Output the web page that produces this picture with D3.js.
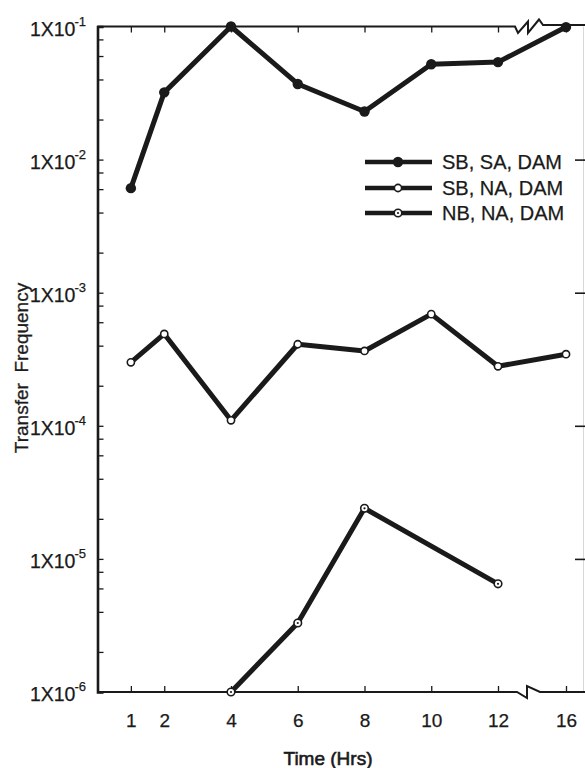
<!DOCTYPE html>
<html>
<head>
<meta charset="utf-8">
<script src="https://cdn.jsdelivr.net/npm/d3@7"></script>
<style>
  body { margin: 0; background: #fff; }
  svg { display: block; font-family: "Liberation Sans", Arial, sans-serif; }
  text { stroke: #1a1a1a; stroke-width: 0.25px; }
</style>
</head>
<body>
<svg id="chart" width="585" height="768"></svg>
<script>
// values
const times = [1, 2, 4, 6, 8, 10, 12, 16];
const sbSaDam = [6.1e-3, 3.2e-2, 1.0e-1, 3.7e-2, 2.3e-2, 5.2e-2, 5.4e-2, 9.9e-2];
const sbNaDam = [3.0e-4, 4.9e-4, 1.1e-4, 4.1e-4, 3.65e-4, 6.9e-4, 2.8e-4, 3.45e-4];
const nbNaTimes = [4, 6, 8, 12];
const nbNaDam = [1.0e-6, 3.3e-6, 2.4e-5, 6.5e-6];

const xTickLabels = [1, 2, 4, 6, 8, 10, 12, 16];
const yDecades = [1e-1, 1e-2, 1e-3, 1e-4, 1e-5, 1e-6];
const yExponents = ["-1", "-2", "-3", "-4", "-5", "-6"];
const legendNames = ["SB, SA, DAM", "SB, NA, DAM", "NB, NA, DAM"];

const width = 585;
const margin = {top: 26.5, bottom: 692, left: 97.5, right: 585};

const svg = d3.select("#chart");

// x axis is broken between 12 and 16
const x = d3.scaleLinear()
    .domain([0, 12, 16])
    .range([margin.left, 498, 566]);

const y = d3.scaleLog()
    .domain([1e-1, 1e-6])
    .range([margin.top, margin.bottom]);

// minor ticks 2,4,6,8 in each decade
let yTickVals = [];
for (const d of yDecades) {
    yTickVals.push(d);
    if (d > 1e-6) {
        for (const m of [0.8, 0.6, 0.4, 0.2]) yTickVals.push(d * m);
    }
}

// faint right edge
svg.append("line")
    .attr("x1", 583.5).attr("x2", 583.5)
    .attr("y1", margin.top).attr("y2", margin.bottom)
    .attr("stroke", "#d8d8d8").attr("stroke-width", 1);

// left axis (ticks pointing inward)
const leftAxis = svg.append("g")
    .attr("transform", "translate(" + margin.left + ",0)")
    .call(d3.axisRight(y).tickValues(yTickVals).tickSize(6).tickFormat(""));
leftAxis.select(".domain").attr("stroke", "#1a1a1a").attr("stroke-width", 2.6);
leftAxis.selectAll(".tick line").attr("stroke", "#1a1a1a").attr("stroke-width", 1.3);

// right ticks
const rightAxis = svg.append("g")
    .attr("transform", "translate(" + margin.right + ",0)")
    .call(d3.axisLeft(y).tickValues(yDecades.slice(1, 5)).tickSize(10).tickFormat(""));
rightAxis.select(".domain").remove();
rightAxis.selectAll(".tick line").attr("stroke", "#1a1a1a").attr("stroke-width", 1.6);

// top ticks
const topAxis = svg.append("g")
    .attr("transform", "translate(0," + margin.top + ")")
    .call(d3.axisTop(x).tickValues(xTickLabels).tickSize(-6).tickFormat(""));
topAxis.select(".domain").remove();
topAxis.selectAll(".tick line").attr("stroke", "#1a1a1a").attr("stroke-width", 1.3);

// bottom ticks + labels
const bottomAxis = svg.append("g")
    .attr("transform", "translate(0," + margin.bottom + ")")
    .call(d3.axisBottom(x).tickValues(xTickLabels).tickSize(-6).tickPadding(22));
bottomAxis.select(".domain").remove();
bottomAxis.selectAll(".tick line").attr("stroke", "#1a1a1a").attr("stroke-width", 1.3);
bottomAxis.selectAll(".tick text")
    .attr("font-size", "19px")
    .attr("font-family", "Liberation Sans, Arial, sans-serif")
    .attr("fill", "#1a1a1a");

// top and bottom frame lines with break marks
const bx = x(12) + 30;
svg.append("path")
    .attr("d", `M${margin.left},${margin.top} H${bx - 13} L${bx - 10},33 L${bx},21.5 V33 L${bx + 11},19.5 L${bx + 15},25 H${margin.right}`)
    .attr("fill", "none").attr("stroke", "#1a1a1a").attr("stroke-width", 2);
svg.append("path")
    .attr("d", `M${margin.left},${margin.bottom} H${bx - 11} L${bx - 1},698 V686 L${bx + 12},${margin.bottom} H${margin.right}`)
    .attr("fill", "none").attr("stroke", "#1a1a1a").attr("stroke-width", 2);

// y tick labels 1X10^n
const yLabels = svg.append("g");
yDecades.forEach((d, i) => {
    const t = yLabels.append("text")
        .attr("x", 86)
        .attr("y", y(d) + 9)
        .attr("text-anchor", "end")
        .attr("font-size", "19.5px")
        .attr("fill", "#1a1a1a");
    t.append("tspan").text("1X10");
    t.append("tspan")
        .attr("font-size", "13px")
        .attr("dx", -1)
        .attr("dy", -10)
        .text(yExponents[i]);
});

// series lines
const line = d3.line().x(d => x(d[0])).y(d => y(d[1]));

const s1 = times.map((t, i) => [t, sbSaDam[i]]);
const s2 = times.map((t, i) => [t, sbNaDam[i]]);
const s3 = nbNaTimes.map((t, i) => [t, nbNaDam[i]]);

for (const s of [s1, s2, s3]) {
    svg.append("path")
        .datum(s)
        .attr("d", line)
        .attr("fill", "none")
        .attr("stroke", "#1a1a1a")
        .attr("stroke-width", 5)
        .attr("stroke-linejoin", "round");
}

function drawMarker(g, cx, cy, kind) {
    if (kind === 0) {
        g.append("circle").attr("cx", cx).attr("cy", cy).attr("r", 5.2).attr("fill", "#1a1a1a");
    } else if (kind === 1) {
        g.append("circle").attr("cx", cx).attr("cy", cy).attr("r", 3.6)
            .attr("fill", "#fff").attr("stroke", "#1a1a1a").attr("stroke-width", 1.6);
    } else {
        g.append("circle").attr("cx", cx).attr("cy", cy).attr("r", 3.8)
            .attr("fill", "#fff").attr("stroke", "#1a1a1a").attr("stroke-width", 1.6);
        g.append("circle").attr("cx", cx).attr("cy", cy).attr("r", 1.1).attr("fill", "#1a1a1a");
    }
}

const marks = svg.append("g");
[s1, s2, s3].forEach((s, k) => {
    s.forEach(d => drawMarker(marks, x(d[0]), y(d[1]), k));
});

// legend
const legend = svg.append("g");
const legendY = [162, 188, 213];
legendNames.forEach((name, i) => {
    legend.append("line")
        .attr("x1", 365).attr("x2", 432)
        .attr("y1", legendY[i]).attr("y2", legendY[i])
        .attr("stroke", "#1a1a1a").attr("stroke-width", 4.5);
    drawMarker(legend, 398, legendY[i], i);
    legend.append("text")
        .attr("x", 442)
        .attr("y", legendY[i] + 7)
        .attr("font-size", "20px")
        .attr("fill", "#1a1a1a")
        .text(name);
});

// axis titles
svg.append("text")
    .attr("x", 328)
    .attr("y", 765)
    .attr("text-anchor", "middle")
    .attr("font-size", "19px")
    .attr("fill", "#1a1a1a")
    .style("stroke-width", "0.6px")
    .text("Time (Hrs)");

svg.append("g")
    .attr("opacity", 0.99)
    .append("text")
    .attr("transform", "translate(28,368) rotate(-90)")
    .attr("text-anchor", "middle")
    .attr("font-size", "19px")
    .attr("fill", "#1a1a1a")
    .style("stroke-width", "0.3px")
    .style("white-space", "pre")
    .text("Transfer  Frequency");
</script>
</body>
</html>
